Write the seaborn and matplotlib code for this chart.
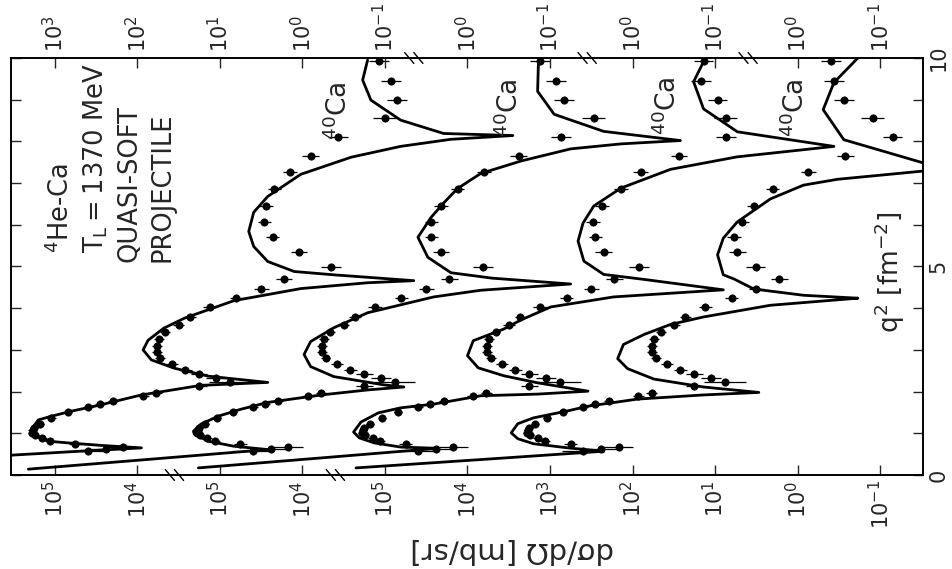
import numpy as np
import pandas as pd
import matplotlib
matplotlib.use("Agg")
import matplotlib.pyplot as plt
from matplotlib.ticker import NullLocator
import seaborn as sns

sns.set_style("white")
plt.rcParams["font.family"] = ["DejaVu Sans"]
plt.rcParams["mathtext.fontset"] = "dejavusans"

# theory curves: q^2 [fm^-2] and log10 of dsigma/dOmega [mb/sr], one per panel
q2_A = [0.40, 0.48, 0.57, 0.65, 0.71, 0.77, 0.81, 0.94, 1.08, 1.32, 1.41, 1.53, 1.67, 1.92, 2.15,
        2.22, 2.37, 2.56, 2.76, 3.00, 3.23, 3.52, 3.76, 4.18, 4.47, 4.61, 4.66, 4.74, 4.80, 4.88,
        5.12, 5.48, 5.84, 6.30, 6.68, 7.21, 7.62, 7.88, 8.05, 8.14, 8.19, 8.51, 8.99, 9.47, 9.95]
lg_A = [6.10, 5.49, 4.70, 3.95, 4.44, 4.84, 5.08, 5.23, 5.29, 5.20, 5.04, 4.80, 4.47, 3.95, 3.23,
        2.42, 3.14, 3.55, 3.83, 3.93, 3.87, 3.68, 3.43, 2.83, 2.02, 1.21, 0.65, 1.20, 1.62, 2.10,
        2.42, 2.59, 2.65, 2.59, 2.42, 2.02, 1.41, 0.81, 0.20, -0.55, 0.29, 0.81, 1.17, 1.27, 1.21]

q2_B = [0.14, 0.38, 0.61, 0.69, 0.81, 0.98, 1.05, 1.22, 1.41, 1.58, 1.74, 1.92, 2.04, 2.11, 2.16,
        2.36, 2.60, 2.89, 3.20, 3.53, 3.89, 4.27, 4.43, 4.58, 4.72, 4.85, 5.22, 5.70, 6.18, 6.52,
        6.87, 7.23, 7.53, 7.82, 7.94, 8.02, 8.24, 8.65, 9.20, 9.92]
lg_B = [7.32, 5.83, 4.42, 4.83, 5.14, 5.31, 5.32, 5.23, 5.02, 4.74, 4.42, 3.77, 3.21, 2.77, 3.01,
        3.62, 3.90, 3.98, 3.90, 3.62, 3.21, 2.41, 1.84, 0.75, 1.70, 2.20, 2.48, 2.60, 2.44, 2.29,
        2.12, 1.84, 1.35, 0.75, 0.14, -0.58, 0.35, 0.95, 1.15, 1.14]

q2_C = [0.17, 0.41, 0.64, 0.67, 0.77, 0.89, 1.03, 1.27, 1.49, 1.61, 1.70, 1.90, 1.94, 2.01, 2.21,
        2.38, 2.57, 2.86, 3.22, 3.50, 3.72, 4.03, 4.27, 4.44, 4.69, 4.81, 5.13, 5.61, 6.04, 6.45,
        6.88, 7.33, 7.63, 7.80, 7.88, 8.23, 8.78, 9.43, 9.91]
lg_C = [7.26, 5.77, 4.36, 4.81, 5.13, 5.31, 5.38, 5.29, 5.08, 4.81, 4.41, 3.84, 3.15, 2.54, 3.15,
        3.56, 3.87, 4.00, 3.93, 3.56, 3.35, 2.99, 2.23, 0.90, 1.86, 2.35, 2.59, 2.66, 2.60, 2.47,
        2.14, 1.54, 0.73, -0.07, -0.44, 0.73, 1.14, 1.26, 1.14]

q2_D = [0.17, 0.37, 0.57, 0.65, 0.75, 0.87, 1.01, 1.23, 1.37, 1.54, 1.65, 1.82, 1.92, 1.98, 2.11,
        2.30, 2.55, 2.79, 3.13, 3.37, 3.61, 3.79, 4.07, 4.20, 4.24, 4.31, 4.46, 4.70, 4.80, 5.28,
        5.68, 6.07, 6.62, 6.95, 7.09, 7.29, 7.38, 7.48, 8.04, 8.76, 9.41, 10.0]
lg_D = [7.35, 5.84, 4.35, 4.78, 5.20, 5.39, 5.47, 5.39, 5.20, 4.78, 4.54, 3.94, 3.14, 2.47, 3.14,
        3.74, 4.06, 4.18, 4.11, 3.86, 3.54, 3.14, 2.33, 1.52, 1.27, 1.93, 2.53, 2.77, 2.90, 2.97,
        2.90, 2.73, 2.33, 1.93, 1.52, 0.47, 0.05, 0.47, 1.44, 1.69, 1.56, 1.27]

# each panel is moved along the cross-section axis by this many decades
shifts = [4, 2, 0, -2]

# measured 40Ca points: below q^2 ~ 4.7 they read the same in every panel
q2_low = [0.57, 0.62, 0.67, 0.74, 0.81, 0.88, 0.95, 1.01, 1.07, 1.13, 1.22, 1.37, 1.50, 1.62, 1.71,
          1.78, 1.89, 1.97, 2.13, 2.22, 2.32, 2.42, 2.52, 2.65, 2.80, 2.95, 3.10, 3.25, 3.42, 3.60,
          3.80, 4.02, 4.25, 4.45, 4.70]
lg_low = [4.60, 4.38, 4.17, 4.75, 5.06, 5.15, 5.24, 5.28, 5.27, 5.25, 5.18, 5.04, 4.84, 4.60, 4.45,
          4.29, 3.93, 3.77, 3.25, 2.88, 3.05, 3.25, 3.42, 3.58, 3.72, 3.76, 3.76, 3.74, 3.66, 3.50,
          3.36, 3.12, 2.80, 2.50, 2.22]
err_low = [0.25, 0.20, 0.18, 0.08, 0.06, 0.05, 0.05, 0.05, 0.05, 0.05, 0.05, 0.05, 0.05, 0.06, 0.06,
           0.06, 0.07, 0.07, 0.10, 0.25, 0.12, 0.10, 0.08, 0.07, 0.06, 0.06, 0.06, 0.06, 0.06, 0.07,
           0.07, 0.08, 0.08, 0.09, 0.10]

# above that the points sit a little differently in each panel
q2_high = [4.98, 5.35, 5.70, 6.07, 6.45, 6.87, 7.27, 7.66, 8.10, 8.55, 9.00, 9.45, 9.92]
lg_high_A = [1.65, 2.04, 2.36, 2.46, 2.44, 2.34, 2.15, 1.90, 1.57, 1.00, 0.85, 0.93, 1.07]
lg_high_B = [1.81, 2.32, 2.44, 2.44, 2.32, 2.12, 1.80, 1.38, 0.87, 0.47, 0.83, 0.93, 1.12]
lg_high_C = [1.92, 2.35, 2.45, 2.48, 2.37, 2.14, 1.90, 1.44, 0.87, 0.87, 0.97, 1.17, 1.14]
lg_high_D = [2.51, 2.73, 2.77, 2.67, 2.53, 2.30, 1.87, 1.42, 0.85, 1.09, 1.44, 1.56, 1.60]
err_high = [0.12, 0.10, 0.08, 0.08, 0.08, 0.08, 0.09, 0.10, 0.12, 0.14, 0.12, 0.12, 0.12]

# tick labels (exponents) of the broken cross-section axis, for ticks 10^-1 ... 10^9
tick_pow = list(range(-1, 10))
bottom_exp = ["-1", "0", "1", "2", "3", "4", "5", "4", "5", "4", "5"]
top_exp = ["-1", "0", "-1", "0", "-1", "0", "-1", "0", "1", "2", "3"]
bottom_breaks = [7.55, 5.6]
top_breaks = [4.65, 2.55, 0.6]

u_left, u_right = 9.53, -1.52

fig = plt.figure(figsize=(9.52, 5.69), dpi=100)
ax = fig.add_axes([0.0116, 0.1652, 0.958, 0.7329])
ax.set_xscale("log")

curves = [(q2_A, lg_A), (q2_B, lg_B), (q2_C, lg_C), (q2_D, lg_D)]
highs = [lg_high_A, lg_high_B, lg_high_C, lg_high_D]
for (q2, lg), hi_lg, s in zip(curves, highs, shifts):
    df = pd.DataFrame({"q2": q2, "sig": 10.0 ** (np.array(lg) + s)})
    sns.lineplot(data=df, x="sig", y="q2", sort=False, estimator=None,
                 color="black", lw=2.0, ax=ax)

    d = pd.DataFrame({"q2": q2_low + q2_high,
                      "lg": np.array(lg_low + hi_lg) + s,
                      "e": err_low + err_high})
    sig = 10.0 ** d["lg"]
    lo = sig - 10.0 ** (d["lg"] - d["e"])
    hi = 10.0 ** (d["lg"] + d["e"]) - sig
    ax.errorbar(sig, d["q2"], xerr=[lo, hi], yerr=0.06, fmt="none",
                ecolor="black", elinewidth=0.9, capsize=0, zorder=3)
    sns.scatterplot(x=sig, y=d["q2"], color="black", s=28, edgecolor="black",
                    linewidth=0.5, ax=ax, zorder=4)

ax.set_xlim(10.0 ** u_left, 10.0 ** u_right)
ax.set_ylim(0, 10)
ax.set_xlabel("")
ax.set_ylabel("")

ticks = [10.0 ** p for p in tick_pow]
ax.set_xticks(ticks, ["$10^{%s}$" % e for e in bottom_exp], rotation=90, fontsize=15)
ax.xaxis.set_minor_locator(NullLocator())
ax.set_yticks(range(11), ["0", "", "", "", "", "5", "", "", "", "", "10"],
              rotation=90, fontsize=15, va="center")
ax.tick_params(axis="x", direction="in", length=7, width=1, pad=4)
ax.tick_params(axis="y", direction="in", length=7, width=1, left=True, right=True,
               labelleft=False, labelright=True, pad=4)

ax_top = ax.twiny()
ax_top.set_xscale("log")
ax_top.set_xlim(ax.get_xlim())
ax_top.set_xticks(ticks, ["$10^{%s}$" % e for e in top_exp], rotation=90, fontsize=15)
ax_top.xaxis.set_minor_locator(NullLocator())
ax_top.tick_params(axis="x", direction="in", length=7, width=1, pad=4)

for a in (ax, ax_top):
    for sp in a.spines.values():
        sp.set_linewidth(1.2)
        sp.set_color("black")


def frac(u):
    return (u_left - u) / (u_left - u_right)


# "\\" marks where the axis is broken
for yb, brk in ((0.0, bottom_breaks), (1.0, top_breaks)):
    for u in brk:
        xf = frac(u)
        for dx in (-0.005, 0.005):
            ax.plot([xf + dx - 0.005, xf + dx + 0.005], [yb + 0.013, yb - 0.013],
                    transform=ax.transAxes, color="black", lw=1.0, clip_on=False)

# text block
info = ["$^{4}$He-Ca", "T$_{\\mathrm{L}}$\u2009=\u20091370 MeV", "QUASI-SOFT", "PROJECTILE"]
info_x = [0.054, 0.093, 0.130, 0.166]
info_y = [0.532, 0.532, 0.511, 0.511]
for s, x, y in zip(info, info_x, info_y):
    ax.text(x, y, s, transform=ax.transAxes, rotation=90, ha="center", va="bottom",
            fontsize=18.5)

label_x = [0.359, 0.547, 0.720, 0.860]
label_y = [0.803, 0.811, 0.815, 0.811]
for x, y in zip(label_x, label_y):
    ax.text(x, y, "$^{40}$Ca", transform=ax.transAxes, rotation=90, ha="center",
            va="bottom", fontsize=19)

ax.text(0.964, 0.341, "q$^{2}$ [fm$^{-2}$]", transform=ax.transAxes, rotation=90,
        ha="center", va="bottom", fontsize=19)
fig.text(0.538, 0.033, "dσ/dΩ [mb/sr]", rotation=180, ha="center", va="center",
         fontsize=21)

fig.savefig("out.png", dpi=100)
